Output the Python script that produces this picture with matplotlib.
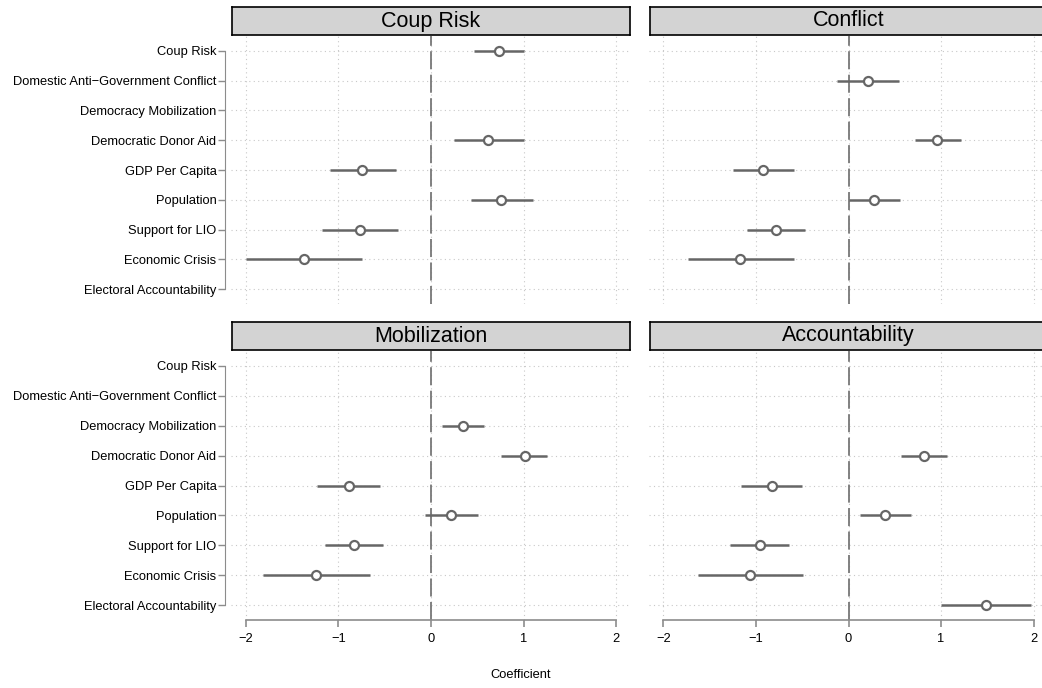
import numpy as np
import matplotlib
matplotlib.use("Agg")
import matplotlib.pyplot as plt

plt.rcParams["font.family"] = ["Liberation Sans", "DejaVu Sans"]

variables = [
    "Coup Risk",
    "Domestic Anti\u2212Government Conflict",
    "Democracy Mobilization",
    "Democratic Donor Aid",
    "GDP Per Capita",
    "Population",
    "Support for LIO",
    "Economic Crisis",
    "Electoral Accountability",
]

panels = ["Coup Risk", "Conflict", "Mobilization", "Accountability"]

nan = np.nan
# point estimates per outcome model (nan = not in model)
coup_est = [0.73, nan, nan, 0.62, -0.74, 0.76, -0.77, -1.37, nan]
coup_lo = [0.46, nan, nan, 0.25, -1.09, 0.43, -1.18, -2.00, nan]
coup_hi = [1.00, nan, nan, 1.00, -0.38, 1.10, -0.36, -0.75, nan]

conflict_est = [nan, 0.21, nan, 0.96, -0.92, 0.28, -0.78, -1.17, nan]
conflict_lo = [nan, -0.12, nan, 0.72, -1.25, 0.00, -1.10, -1.73, nan]
conflict_hi = [nan, 0.54, nan, 1.21, -0.59, 0.56, -0.47, -0.59, nan]

mob_est = [nan, nan, 0.35, 1.01, -0.89, 0.22, -0.83, -1.24, nan]
mob_lo = [nan, nan, 0.12, 0.76, -1.23, -0.07, -1.15, -1.81, nan]
mob_hi = [nan, nan, 0.57, 1.25, -0.55, 0.51, -0.52, -0.66, nan]

acc_est = [nan, nan, nan, 0.81, -0.83, 0.39, -0.96, -1.06, 1.49]
acc_lo = [nan, nan, nan, 0.57, -1.16, 0.12, -1.28, -1.63, 1.00]
acc_hi = [nan, nan, nan, 1.06, -0.50, 0.67, -0.64, -0.49, 1.97]

x_ticks = [-2, -1, 0, 1, 2]
x_ticklabels = ["\u22122", "\u22121", "0", "1", "2"]

series = [
    (coup_est, coup_lo, coup_hi),
    (conflict_est, conflict_lo, conflict_hi),
    (mob_est, mob_lo, mob_hi),
    (acc_est, acc_lo, acc_hi),
]

W, H = 1042, 688
fig = plt.figure(figsize=(W / 100, H / 100), dpi=100)

# panel boxes in pixels
lefts = [231, 648.5]
widths = 400
tops = [36, 351]
heights = [268, 269]
strip_tops = [7, 322]

axis_col = "#8c8c8c"
mark_col = "#666666"
grid_col = "#c8c8c8"

rows = np.arange(1, len(variables) + 1)

for i, name in enumerate(panels):
    r, c = divmod(i, 2)
    x0 = lefts[c]
    y0 = tops[r]
    h = heights[r]
    ax = fig.add_axes([x0 / W, 1 - (y0 + h) / H, widths / W, h / H])
    est, lo, hi = [np.array(a, dtype=float) for a in series[i]]

    for xt in x_ticks:
        ax.axvline(xt, color=grid_col, lw=0.8, ls=(0, (1, 3)), zorder=0)
    for yr in rows:
        ax.axhline(yr, color=grid_col, lw=0.8, ls=(0, (1, 3)), zorder=0)
    ax.axvline(0, color="#777777", lw=1.3, ls=(0, (10, 3)), zorder=1)

    ok = ~np.isnan(est)
    ax.hlines(rows[ok], lo[ok], hi[ok], color=mark_col, lw=1.8, zorder=2)
    ax.plot(est[ok], rows[ok], "o", mfc="white", mec=mark_col, mew=1.6,
            ms=6.5, zorder=3)

    ax.set_xlim(-2.16, 2.16)
    ax.set_ylim(9.5, 0.5)
    for s in ["top", "right"]:
        ax.spines[s].set_visible(False)

    if c == 0:
        ax.spines["left"].set_position(("outward", 4))
        ax.spines["left"].set_bounds(1, 9)
        ax.spines["left"].set_color(axis_col)
        ax.set_yticks(rows)
        ax.set_yticklabels(variables, fontsize=9.3)
        ax.tick_params(axis="y", length=5, color=axis_col, width=1, pad=1.5)
    else:
        ax.spines["left"].set_visible(False)
        ax.set_yticks([])

    if r == 1:
        ax.spines["bottom"].set_bounds(-2, 2)
        ax.spines["bottom"].set_color(axis_col)
        ax.spines["bottom"].set_linewidth(1.2)
        ax.set_xticks(x_ticks)
        ax.set_xticklabels(x_ticklabels, fontsize=9.3)
        ax.tick_params(axis="x", length=5, color=axis_col, width=1.2, pad=4)
    else:
        ax.spines["bottom"].set_visible(False)
        ax.set_xticks([])

    # strip header
    st = strip_tops[r]
    sax = fig.add_axes([(x0 + 1) / W, 1 - (st + 28) / H, (widths - 2) / W, 28 / H])
    sax.set_facecolor("#d3d3d3")
    sax.set_xticks([])
    sax.set_yticks([])
    for s in sax.spines.values():
        s.set_color("black")
        s.set_linewidth(1.2)
    sax.text(0.5, 0.5, name, ha="center", va="center", fontsize=15.5,
             transform=sax.transAxes)

fig.text(0.5, 1 - 675 / H, "Coefficient", ha="center", va="center", fontsize=9.3)

fig.savefig("out.png", dpi=100)
